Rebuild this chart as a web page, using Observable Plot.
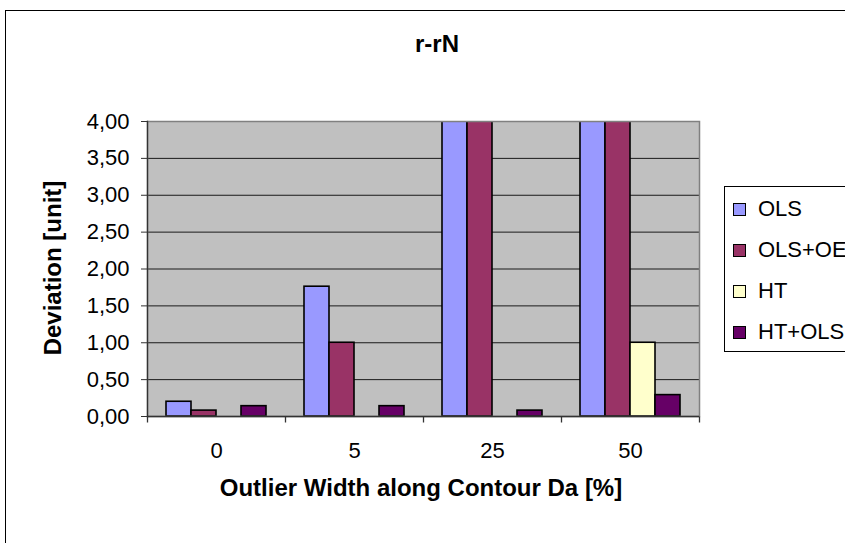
<!DOCTYPE html>
<html>
<head>
<meta charset="utf-8">
<script src="https://cdn.jsdelivr.net/npm/d3@7"></script>
<script src="https://cdn.jsdelivr.net/npm/@observablehq/plot@0.6"></script>
<style>
  html, body { margin: 0; padding: 0; background: #fff; overflow: hidden; }
  #wrap { position: relative; width: 845px; height: 543px; overflow: hidden; font-family: Arial, "Liberation Sans", sans-serif; color: #000; }
  #border { position: absolute; left: 5px; top: 10px; width: 900px; height: 600px; border: 1px solid #000; box-sizing: border-box; }
  #chart { position: absolute; left: 0; top: 0; }
  .ttl { position: absolute; font-weight: bold; font-size: 24px; white-space: nowrap; transform: translate(-50%, -50%); line-height: 1; }
  #ytitle { transform: translate(-50%, -50%) rotate(-90deg); }
  #legend { position: absolute; left: 724px; top: 186px; width: 200px; height: 166px; border: 1px solid #000; box-sizing: border-box; background: #fff; }
  .li { position: absolute; left: 0; height: 24px; display: flex; align-items: center; font-size: 22px; white-space: nowrap; transform: translateY(-50%); }
  .sw { width: 11px; height: 11px; border: 1.5px solid #000; margin-left: 8px; margin-right: 12px; box-sizing: content-box; }
</style>
</head>
<body>
<div id="wrap">
  <div id="border"></div>
  <div id="chart"></div>
  <div class="ttl" id="title" style="left:437px; top:44px;"></div>
  <div class="ttl" id="ytitle" style="left:53px; top:268px;"></div>
  <div class="ttl" id="xtitle" style="left:421px; top:488px;"></div>
  <div id="legend"></div>
</div>
<script>
// ---- Data ----
const chartTitle = "r-rN";
const xTitle = "Outlier Width along Contour Da [%]";
const yTitle = "Deviation [unit]";
const categories = ["0", "5", "25", "50"];
const seriesNames = ["OLS", "OLS+OE", "HT", "HT+OLS"];
const seriesColors = ["#9999FF", "#993366", "#FFFFCC", "#660066"];
// values above 4,00 run off the top of the chart (clipped in the original)
const olsValues   = [0.20, 1.76, 5.00, 5.00];
const olsOeValues = [0.08, 1.00, 5.00, 5.00];
const htValues    = [0.00, 0.00, 0.00, 1.00];
const htOlsValues = [0.14, 0.14, 0.08, 0.29];
const yTicks = [0, 0.5, 1, 1.5, 2, 2.5, 3, 3.5, 4];

// ---- Build table ----
const seriesValues = [olsValues, olsOeValues, htValues, htOlsValues];
const rows = [];
seriesNames.forEach((s, j) => {
  categories.forEach((c, i) => {
    rows.push({category: c, series: s, value: seriesValues[j][i]});
  });
});

// symbols for short tick marks and full-height lines
const downTick = { draw(ctx, size) { const l = Math.sqrt(size / Math.PI); ctx.moveTo(0, 0); ctx.lineTo(0, l); } };

const W = 845, H = 543;
const mL = 146, mR = 145, mT = 121, mB = 127;

const chart = Plot.plot({
  width: W,
  height: H,
  marginLeft: mL,
  marginRight: mR,
  marginTop: mT,
  marginBottom: mB,
  style: { fontFamily: "Arial, 'Liberation Sans', sans-serif", fontSize: "22px", color: "#000", background: "transparent", overflow: "visible" },
  fx: { domain: categories, padding: 0, label: null },
  x: { domain: seriesNames, paddingInner: 0, paddingOuter: 0.7, axis: null },
  y: { domain: [0, 4], label: null },
  color: { domain: seriesNames, range: seriesColors },
  marks: [
    Plot.frame({ facet: "super", fill: "#C0C0C0", stroke: null }),
    Plot.gridY(yTicks, { stroke: "#1a1a1a", strokeOpacity: 1, strokeWidth: 1 }),
    Plot.barY(rows.filter(d => d.value > 0), {
      fx: "category", x: "series", y: "value",
      fill: "series", stroke: "#000", strokeWidth: 1.6, clip: true
    }),
    Plot.frame({ facet: "super", fill: "none", stroke: "#808080", strokeWidth: 1.5 }),
    Plot.frame({ facet: "super", anchor: "left", stroke: "#333", strokeWidth: 1.3 }),
    Plot.ruleY([0], { stroke: "#333", strokeWidth: 1.3 }),
    Plot.dot(categories, { fx: d => d, frameAnchor: "bottom-left", symbol: downTick, r: 6, stroke: "#333", strokeWidth: 1.3, fill: "none" }),
    Plot.dot(categories.slice(-1), { fx: d => d, frameAnchor: "bottom-right", symbol: downTick, r: 6, stroke: "#333", strokeWidth: 1.3, fill: "none" }),
    Plot.axisY(yTicks, {
      tickFormat: d => d.toFixed(2).replace(".", ","),
      tickSize: 6, tickPadding: 12, stroke: "#333", label: null
    }),
    Plot.axisFx({ anchor: "bottom", tickSize: 0, tickPadding: 26, label: null })
  ]
});
document.getElementById("chart").appendChild(chart);

document.getElementById("title").textContent = chartTitle;
document.getElementById("xtitle").textContent = xTitle;
document.getElementById("ytitle").textContent = yTitle;

const legend = document.getElementById("legend");
const rowCenters = [22, 63, 104, 145];
seriesNames.forEach((s, j) => {
  const item = document.createElement("div");
  item.className = "li";
  item.style.top = rowCenters[j] + "px";
  const sw = document.createElement("span");
  sw.className = "sw";
  sw.style.background = seriesColors[j];
  const tx = document.createElement("span");
  tx.textContent = s;
  item.appendChild(sw);
  item.appendChild(tx);
  legend.appendChild(item);
});
</script>
</body>
</html>
